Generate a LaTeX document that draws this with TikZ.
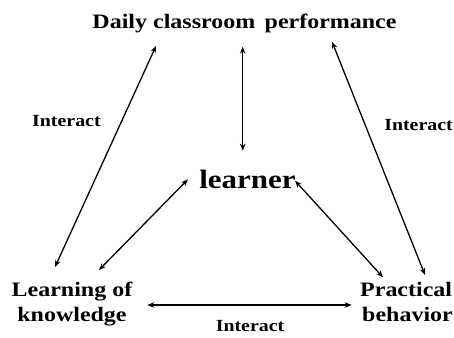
\documentclass[tikz,border=0pt]{standalone}
\usepackage{fontspec}
\setmainfont{Liberation Serif}[FakeStretch=1.17]
\usetikzlibrary{arrows.meta}
\begin{document}
\begin{tikzpicture}[x=1pt,y=-1pt,
  lbl/.style={font=\bfseries\fontsize{20.5}{25}\selectfont, inner sep=0pt, anchor=base},
  small/.style={font=\bfseries\fontsize{17}{19}\selectfont, inner sep=0pt, anchor=base west},
  link/.style={line width=1.3pt, {Stealth[length=7pt,width=5.5pt]}-{Stealth[length=7pt,width=5.5pt]}}]
\useasboundingbox (0,0) rectangle (454,337);
\node[lbl] (title) at (244.5,29) {Daily classroom\, performance};
\node[lbl, font=\bfseries\fontsize{26.5}{30}\selectfont] (learner) at (247.5,188.5) {learner};
\node[lbl, align=center] (lk) at (72,321.7) {Learning of\\knowledge};
\node[lbl, align=left, anchor=base east] (pb) at (453,321.7) {Practical\\\hspace*{2pt}behavior};
\node[small] (i1) at (32,126) {Interact};
\node[small, anchor=base east] (i2) at (453,130) {Interact};
\node[small, anchor=base] (i3) at (250,331.7) {Interact};
% arrow ends
\coordinate (t1) at (156,46);   \coordinate (k1) at (55,267);
\coordinate (t2) at (242.7,46.7); \coordinate (l2) at (242.7,150.7);
\coordinate (t3) at (332,41.7); \coordinate (p3) at (425,275);
\coordinate (l4) at (188,179.3); \coordinate (k4) at (99,270);
\coordinate (l5) at (295,180.7); \coordinate (p5) at (383,277.3);
\coordinate (k6) at (147.3,305); \coordinate (p6) at (351.7,305);
\draw[link] (t1) -- (k1);
\draw[link] (t2) -- (l2);
\draw[link] (t3) -- (p3);
\draw[link] (l4) -- (k4);
\draw[link] (l5) -- (p5);
\draw[link] (k6) -- (p6);
\end{tikzpicture}
\end{document}
